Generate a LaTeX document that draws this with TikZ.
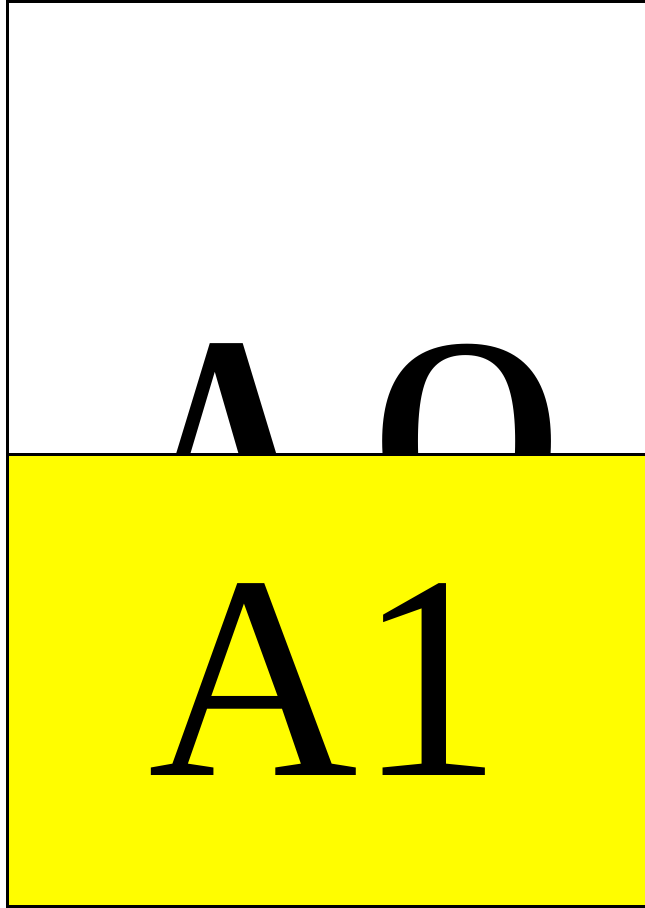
\documentclass[tikz,border=0pt]{standalone}
\usepackage{fontspec}
\setmainfont{Liberation Serif}
\definecolor{paperyellow}{RGB}{255,253,0}
\begin{document}
\begin{tikzpicture}[x=0.75pt,y=-0.75pt,
  frame/.style={draw=black,line width=2.25pt},
  bigbold/.style={inner sep=0pt,outer sep=0pt,anchor=base west,font=\fontsize{218}{218}\selectfont\bfseries},
  bigreg/.style={inner sep=0pt,outer sep=0pt,anchor=base west,font=\fontsize{218}{218}\selectfont}]
\useasboundingbox (0,0) rectangle (645,908);
\path[frame,fill=white] (7.5,1.5) rectangle (652,906);
\node[bigbold] (a0) at (142,535) {\scalebox{0.8}[1]{A}\hspace{43.5pt}\raisebox{-1.5pt}{\scalebox{1.37}[1]{\mdseries 0}}};
\path[frame,fill=paperyellow] (7.5,454) rectangle (652,906);
\node[bigreg] (a1) at (148,775) {A1};
\end{tikzpicture}
\end{document}
